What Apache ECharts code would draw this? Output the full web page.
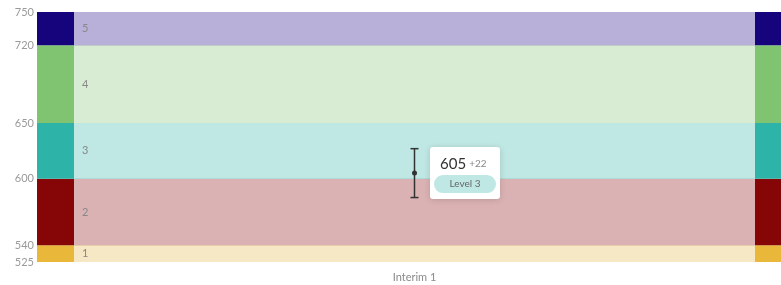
<!DOCTYPE html>
<html>
<head>
<meta charset="utf-8">
<script src="https://cdn.jsdelivr.net/npm/echarts@6/dist/echarts.min.js"></script>
<style>
  html, body { margin: 0; padding: 0; background: #fff; }
  #chart { width: 781px; height: 285px; }
</style>
</head>
<body>
<div id="chart"></div>
<script>
// level bands
const levelNames = ['1', '2', '3', '4', '5'];
const levelBounds = [525, 540, 600, 650, 720, 750];
const solidColors = ['#e9b73a', '#860507', '#2db3a7', '#80c472', '#16047c'];
const lightColors = ['#f7e8c5', '#dbb2b3', '#bfe7e3', '#d8ecd3', '#b8b0d8'];
const yTicks = [525, 540, 600, 650, 720, 750];

// score
const categories = ['Interim 1'];
const scores = [605];
const errors = [22];
const scoreLevels = ['Level 3'];

const FONT = 'Lato';

const bandData = (colors, withLabel) => levelNames.map((name, i) => [
  {
    yAxis: levelBounds[i],
    name: withLabel ? name : '',
    itemStyle: { color: colors[i], opacity: 1 }
  },
  { yAxis: levelBounds[i + 1] }
]);

const chart = echarts.init(document.getElementById('chart'));

const option = {
  animation: false,
  textStyle: { fontFamily: FONT },
  grid: [
    { left: 37, right: 0, top: 12, bottom: 23 },
    { left: 74, right: 26, top: 12, bottom: 23 }
  ],
  xAxis: [
    { gridIndex: 0, type: 'value', min: 0, max: 1, show: false },
    {
      gridIndex: 1,
      type: 'category',
      data: categories,
      axisLine: { show: false },
      axisTick: { show: false },
      axisLabel: { color: '#8a8a8a', fontSize: 11, margin: 10, fontFamily: FONT }
    }
  ],
  yAxis: [
    {
      gridIndex: 0,
      type: 'value',
      min: 525,
      max: 750,
      splitLine: { show: false },
      axisLine: { show: false },
      axisTick: { show: false },
      axisLabel: {
        customValues: yTicks,
        color: '#9a9a9a',
        fontSize: 11,
        margin: 3,
        fontFamily: FONT
      }
    },
    {
      gridIndex: 1,
      type: 'value',
      min: 525,
      max: 750,
      show: false
    }
  ],
  series: [
    {
      type: 'line',
      xAxisIndex: 0,
      yAxisIndex: 0,
      data: [],
      silent: true,
      z: 1,
      markArea: {
        silent: true,
        label: { show: false },
        data: bandData(solidColors, false)
      }
    },
    {
      type: 'line',
      xAxisIndex: 1,
      yAxisIndex: 1,
      data: [],
      silent: true,
      z: 2,
      markArea: {
        silent: true,
        label: {
          show: true,
          position: 'insideLeft',
          distance: 8,
          color: '#888',
          fontSize: 11,
          fontFamily: FONT
        },
        data: bandData(lightColors, true)
      }
    },
    {
      type: 'custom',
      xAxisIndex: 1,
      yAxisIndex: 1,
      z: 5,
      data: scores.map((v, i) => [i, v, errors[i]]),
      renderItem: (params, api) => {
        const x = api.value(0);
        const v = api.value(1);
        const e = api.value(2);
        const top = api.coord([x, v + e]);
        const bot = api.coord([x, v - e]);
        const w = 4;
        const style = { stroke: '#333', lineWidth: 1.5 };
        return {
          type: 'group',
          children: [
            { type: 'line', shape: { x1: top[0], y1: top[1], x2: bot[0], y2: bot[1] }, style },
            { type: 'line', shape: { x1: top[0] - w, y1: top[1], x2: top[0] + w, y2: top[1] }, style },
            { type: 'line', shape: { x1: bot[0] - w, y1: bot[1], x2: bot[0] + w, y2: bot[1] }, style }
          ]
        };
      }
    },
    {
      type: 'scatter',
      xAxisIndex: 1,
      yAxisIndex: 1,
      z: 6,
      symbolSize: 5,
      itemStyle: { color: '#333', opacity: 1 },
      data: scores.map((v, i) => [i, v]),
      label: {
        show: true,
        position: 'right',
        distance: 13,
        backgroundColor: '#fff',
        borderRadius: 3,
        padding: [6, 4, 6, 4],
        shadowBlur: 6,
        shadowColor: 'rgba(0,0,0,0.15)',
        shadowOffsetY: 1,
        formatter: p => '{v|' + scores[p.dataIndex] + '} {e|+' + errors[p.dataIndex] + '}\n{p|' + scoreLevels[p.dataIndex] + '}',
        rich: {
          v: { fontSize: 15, color: '#333', fontFamily: FONT, lineHeight: 22, padding: [0, 0, 0, 6] },
          e: { fontSize: 10, color: '#888', fontFamily: FONT, lineHeight: 22 },
          p: {
            fontSize: 10,
            color: '#666',
            fontFamily: FONT,
            backgroundColor: '#bfe7e3',
            borderRadius: 9,
            width: 52,
            align: 'center',
            height: 18,
            lineHeight: 18,
            padding: [0, 5]
          }
        }
      }
    }
  ]
};

chart.setOption(option);
window.addEventListener('resize', () => chart.resize());
</script>
</body>
</html>
